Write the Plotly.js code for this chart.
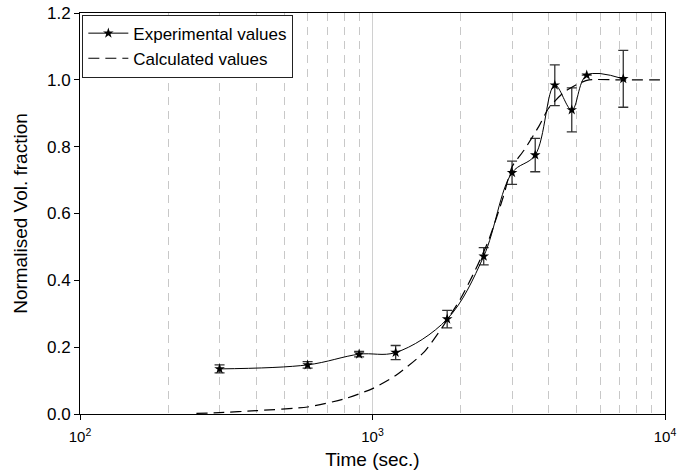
<!DOCTYPE html>
<html>
<head>
<meta charset="utf-8">
<script src="https://cdn.plot.ly/plotly-3.0.1.min.js"></script>
<style>html,body{margin:0;padding:0;background:#fff}#chart{width:678px;height:472px}</style>
</head>
<body>
<div id="chart"></div>
<script>
// Experimental values
const expTime = [300, 600, 900, 1200, 1800, 2400, 3000, 3600, 4200, 4800, 5400, 7200];
const expFrac = [0.135, 0.147, 0.179, 0.184, 0.284, 0.472, 0.722, 0.775, 0.984, 0.910, 1.014, 1.003];
const expErr  = [0.012, 0.010, 0.008, 0.021, 0.026, 0.026, 0.035, 0.050, 0.061, 0.066, 0, 0.085];

// Calculated values
const calcTime = [250, 300, 400, 600, 800, 1000, 1200, 1500, 1750, 2000, 2250, 2500, 2800, 3000, 3300, 3700, 4000, 4500, 5100, 5500, 7000, 10000];
const calcFrac = [0.002, 0.004, 0.010, 0.021, 0.045, 0.076, 0.115, 0.185, 0.265, 0.345, 0.432, 0.522, 0.650, 0.740, 0.790, 0.860, 0.915, 0.962, 0.990, 1.0, 1.0, 1.0];

// Axis ticks
const xMajorTicks = [100, 1000, 10000];
const xMajorLabels = ['10<sup>2</sup>', '10<sup>3</sup>', '10<sup>4</sup>'];
const xMinorTicks = [200, 300, 400, 500, 600, 700, 800, 900, 2000, 3000, 4000, 5000, 6000, 7000, 8000, 9000];

const FONT = '"Liberation Sans", Arial, sans-serif';

const traces = [
  {
    x: expTime, y: expFrac, name: 'Experimental values',
    type: 'scatter', mode: 'lines+markers',
    line: {color: '#000', width: 1, shape: 'spline', smoothing: 1},
    marker: {symbol: 'star', size: 8, color: '#000'},
    error_y: {type: 'data', array: expErr, visible: true, color: '#333', thickness: 1.3, width: 5}
  },
  {
    x: calcTime, y: calcFrac, name: 'Calculated values',
    type: 'scatter', mode: 'lines',
    line: {color: '#000', width: 1.2, dash: '11px,6px', shape: 'spline', smoothing: 0.6}
  }
];

const layout = {
  width: 678, height: 472,
  margin: {l: 80, r: 13, t: 13, b: 58},
  paper_bgcolor: '#fff', plot_bgcolor: '#fff',
  font: {family: FONT, size: 17, color: '#000'},
  showlegend: true,
  legend: {
    x: 0.004, y: 0.996, xanchor: 'left', yanchor: 'top',
    bgcolor: '#fff', bordercolor: '#222', borderwidth: 1,
    font: {family: FONT, size: 17, color: '#000'},
    tracegroupgap: 0, itemwidth: 40
  },
  xaxis: {
    type: 'log', range: [2, 4],
    tickmode: 'array', tickvals: xMajorTicks, ticktext: xMajorLabels,
    ticks: 'outside', ticklen: 5, tickcolor: '#000',
    ticklabelstandoff: 4,
    showline: true, linecolor: '#000', linewidth: 1, mirror: true,
    showgrid: true, gridcolor: '#d0d0d0', gridwidth: 1.5,
    zeroline: false,
    tickfont: {family: FONT, size: 15},
    title: {text: 'Time (sec.)', font: {family: FONT, size: 19}, standoff: 8},
    minor: {tickmode: 'array', tickvals: xMinorTicks, showgrid: true, gridcolor: '#c8c8c8', gridwidth: 1, griddash: '8px,6px', ticks: ''}
  },
  yaxis: {
    range: [0, 1.2], dtick: 0.2, tick0: 0, tickformat: '.1f',
    ticks: 'outside', ticklen: 5, tickcolor: '#000',
    showline: true, linecolor: '#000', linewidth: 1, mirror: true,
    showgrid: false, zeroline: false,
    tickfont: {family: FONT, size: 17},
    title: {text: 'Normalised Vol. fraction', font: {family: FONT, size: 19}, standoff: 14}
  }
};

Plotly.newPlot('chart', traces, layout, {displayModeBar: false, staticPlot: true});
</script>
</body>
</html>
